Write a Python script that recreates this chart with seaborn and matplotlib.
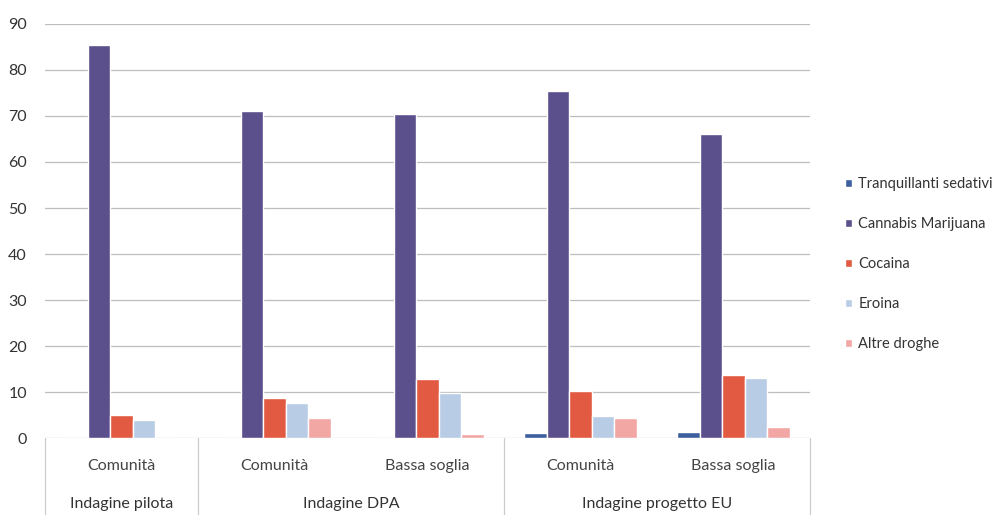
import pandas as pd
import numpy as np
import matplotlib
matplotlib.use('Agg')
import matplotlib.pyplot as plt
import seaborn as sns

# Data
surveys = ['Indagine pilota', 'Indagine DPA', 'Indagine DPA', 'Indagine progetto EU', 'Indagine progetto EU']
settings = ['Comunità', 'Comunità', 'Bassa soglia', 'Comunità', 'Bassa soglia']
drugs = ['Tranquillanti sedativi', 'Cannabis Marijuana', 'Cocaina', 'Eroina', 'Altre droghe']
tranquillanti = [0, 0, 0, 1.0, 1.3]
cannabis = [85.5, 71.0, 70.5, 75.5, 66.0]
cocaina = [4.9, 8.8, 12.8, 10.2, 13.8]
eroina = [4.0, 7.7, 9.8, 4.8, 13.0]
altre = [0, 4.3, 0.8, 4.3, 2.5]

colors = ['#3d5f9e', '#5b4f8c', '#e25a41', '#b9cce6', '#f2a7a5']

series = [tranquillanti, cannabis, cocaina, eroina, altre]
keys = [f'{s}|{c}|{i}' for i, (s, c) in enumerate(zip(surveys, settings))]
rows = []
for drug, vals in zip(drugs, series):
    for k, v in zip(keys, vals):
        rows.append({'key': k, 'drug': drug, 'value': v})
df = pd.DataFrame(rows)

sns.set_style('white')
plt.rcParams['font.family'] = ['Lato', 'DejaVu Sans']

fig = plt.figure(figsize=(10.07, 5.15), dpi=100)
ax = fig.add_axes([45 / 1007, 77 / 515, 765 / 1007, 414 / 515])

ax.yaxis.grid(True, color='#bdbdbd', linewidth=0.9)
ax.set_axisbelow(True)
sns.barplot(data=df, x='key', y='value', hue='drug', order=keys, hue_order=drugs,
            palette=colors, width=0.74, gap=0, saturation=1, ax=ax, legend=True)

ax.set_ylim(0, 90)
ax.set_xlim(-0.5, 4.5)
ax.set_yticks(np.arange(0, 91, 10))
ax.tick_params(axis='y', length=0, labelsize=11.5, labelcolor='#333333', pad=13)
ax.set_xticks(range(5))
ax.set_xticklabels(settings)
ax.tick_params(axis='x', length=0, labelsize=11.5, labelcolor='#444444', pad=15)
ax.set_xlabel('')
ax.set_ylabel('')
for sp in ax.spines.values():
    sp.set_visible(False)

# group separators below axis
for xb in [-0.5, 0.5, 2.5, 4.5]:
    ax.plot([xb, xb], [0, -17.5], color='#cccccc', linewidth=0.9, clip_on=False,
            transform=ax.transData)

# survey group labels
group_pos = {'Indagine pilota': (0,), 'Indagine DPA': (1, 2), 'Indagine progetto EU': (3, 4)}
for name, idx in group_pos.items():
    ax.text(np.mean(idx), -14.3, name, ha='center', va='center', fontsize=11.5,
            color='#333333', clip_on=False)

leg = ax.legend(loc='upper left', bbox_to_anchor=(832 / 1007, 1 - 164 / 515),
                bbox_transform=fig.transFigure, frameon=False, fontsize=10.5,
                handlelength=0.5, handleheight=0.5, handletextpad=0.4,
                labelspacing=1.78)
for t in leg.get_texts():
    t.set_color('#333333')

fig.savefig('out.png', dpi=100)
